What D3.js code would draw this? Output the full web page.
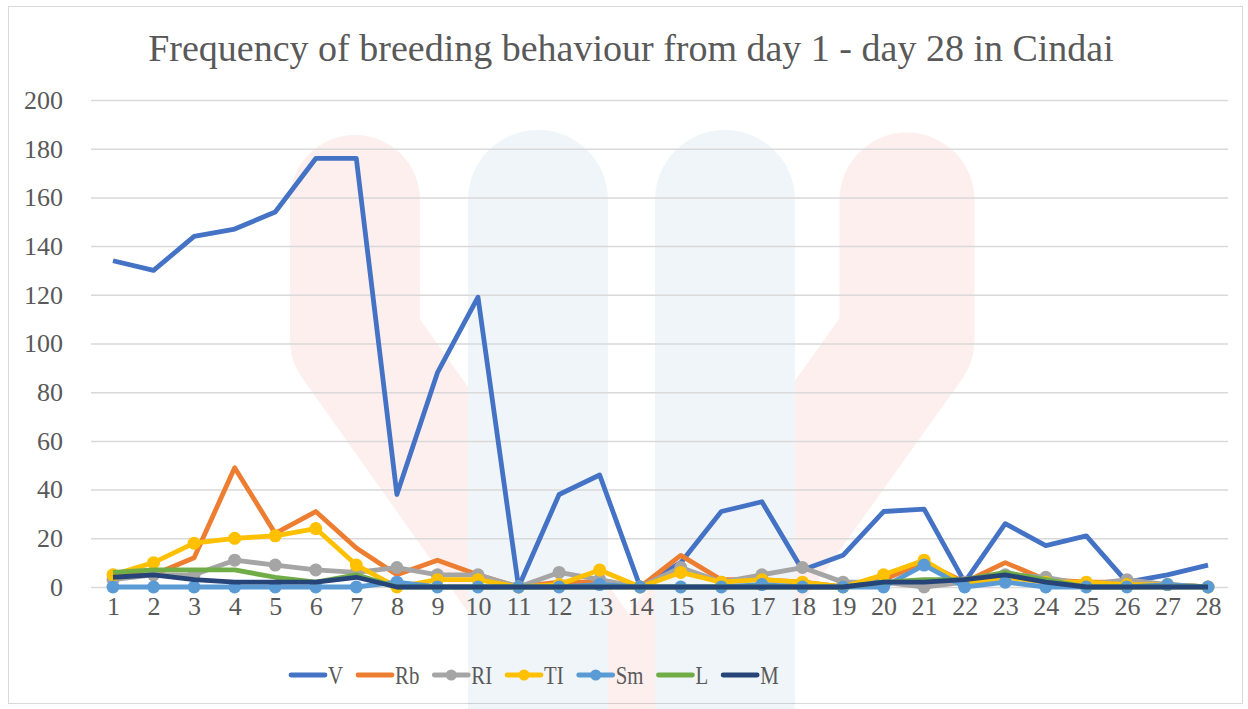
<!DOCTYPE html>
<html>
<head>
<meta charset="utf-8">
<script src="https://cdn.jsdelivr.net/npm/d3@7"></script>
<style>
  body { margin: 0; background: #fff; }
  text { font-family: "Liberation Serif", "Times New Roman", serif; fill: #595959; }
</style>
</head>
<body>
<div id="chart"></div>
<script>
// data
const days = d3.range(1, 29);
const V  = [134,130,144,147,154,176,176,38,88,119,0,38,46,0,10,31,35,7,13,31,32,2,26,17,21,2,5,9];
const Rb = [5,5,12,49,22,31,16,5,11,5,0,2,2,0,13,3,3,2,0,3,10,2,10,3,2,2,1,0];
const RI = [3,5,5,11,9,7,6,8,5,5,0,6,3,0,8,2,5,8,2,2,0,2,5,4,1,3,1,0];
const TI = [5,10,18,20,21,24,9,0,3,3,0,1,7,0,6,2,3,2,0,5,11,1,4,2,2,1,1,0];
const Sm = [0,0,0,0,0,0,0,2,0,0,0,0,1,0,0,0,1,0,0,0,9,0,2,0,0,0,1,0];
const L  = [6,7,7,7,4,2,5,0,0,0,0,0,0,0,0,0,0,0,0,2,3,3,6,3,0,0,0,0];
const M  = [4,5,3,2,2,2,4,0,0,0,0,0,0,0,0,0,0,0,0,2,2,3,5,2,0,0,0,0];
const yTicks = [0,20,40,60,80,100,120,140,160,180,200];

const series = [
  {name: "V",  values: V,  color: "#4472C4", dots: false},
  {name: "Rb", values: Rb, color: "#ED7D31", dots: false},
  {name: "RI", values: RI, color: "#A5A5A5", dots: true},
  {name: "TI", values: TI, color: "#FFC000", dots: true},
  {name: "Sm", values: Sm, color: "#5B9BD5", dots: true},
  {name: "L",  values: L,  color: "#70AD47", dots: false},
  {name: "M",  values: M,  color: "#264478", dots: false}
];

const W = 1248, H = 709;
const svg = d3.select("#chart").append("svg")
  .attr("width", W).attr("height", H);

// outer frame
svg.append("rect")
  .attr("x", 8.5).attr("y", 6.5).attr("width", W - 14).attr("height", H - 12)
  .attr("fill", "#fff").attr("stroke", "#d9d9d9");

// faint logo watermark behind the plot
const wm = svg.append("g").attr("opacity", 0.08);
wm.append("path")
  .attr("d", "M355,200 L355,340 L610,700")
  .attr("fill", "none").attr("stroke", "#e8403a").attr("stroke-width", 130)
  .attr("stroke-linecap", "round").attr("stroke-linejoin", "round");
wm.append("path")
  .attr("d", "M907,200 L907,340 L650,700")
  .attr("fill", "none").attr("stroke", "#e8403a").attr("stroke-width", 135)
  .attr("stroke-linecap", "round").attr("stroke-linejoin", "round");
wm.append("path")
  .attr("d", "M538,200 L538,720")
  .attr("fill", "none").attr("stroke", "#4d8dbf").attr("stroke-width", 140)
  .attr("stroke-linecap", "round");
wm.append("path")
  .attr("d", "M725,200 L725,720")
  .attr("fill", "none").attr("stroke", "#4d8dbf").attr("stroke-width", 140)
  .attr("stroke-linecap", "round");

const x = d3.scalePoint().domain(days).range([113, 1208]);
const y = d3.scaleLinear().domain([0, 200]).range([587, 100]);

// gridlines + y labels
const yAxis = svg.append("g")
  .attr("transform", "translate(91,0)")
  .call(d3.axisLeft(y).tickValues(yTicks).tickSize(-(1228 - 91)).tickPadding(28));
yAxis.select(".domain").remove();
yAxis.selectAll(".tick line").attr("stroke", "#d9d9d9").attr("stroke-width", 1.5);
yAxis.selectAll(".tick text")
  .attr("font-size", 26).attr("font-family", "Liberation Serif").attr("fill", "#595959");

// x labels
const xAxis = svg.append("g")
  .attr("transform", "translate(0,587)")
  .call(d3.axisBottom(x).tickSize(0).tickPadding(10));
xAxis.select(".domain").remove();
xAxis.selectAll(".tick text")
  .attr("font-size", 26).attr("font-family", "Liberation Serif").attr("fill", "#595959");

// title
svg.append("text")
  .attr("x", 631).attr("y", 61)
  .attr("text-anchor", "middle")
  .attr("font-size", 38)
  .text("Frequency of breeding behaviour from day 1 - day 28 in Cindai");

// lines
const line = d3.line()
  .x((d, i) => x(days[i]))
  .y(d => y(d));

series.forEach(s => {
  const g = svg.append("g");
  g.append("path")
    .datum(s.values)
    .attr("fill", "none")
    .attr("stroke", s.color)
    .attr("stroke-width", 4.8)
    .attr("stroke-linejoin", "round")
    .attr("d", line);
  if (s.dots) {
    g.selectAll("circle")
      .data(s.values)
      .enter()
      .append("circle")
        .attr("cx", (d, i) => x(days[i]))
        .attr("cy", d => y(d))
        .attr("r", 6.5)
        .attr("fill", s.color);
  }
});

// legend (text is a bit condensed in the original)
const squeeze = 0.8;
const legend = svg.append("g").attr("transform", "translate(291,675)");
let lx = 0;
series.forEach(s => {
  const item = legend.append("g").attr("transform", `translate(${lx},0)`);
  item.append("line")
    .attr("x1", 0).attr("x2", 34)
    .attr("stroke", s.color).attr("stroke-width", 4.8)
    .attr("stroke-linecap", "round");
  if (s.dots) {
    item.append("circle").attr("cx", 17).attr("r", 5.5).attr("fill", s.color);
  }
  const t = item.append("text")
    .attr("transform", `translate(37,9) scale(${squeeze},1)`)
    .attr("font-size", 26)
    .text(s.name);
  lx += 37 + t.node().getComputedTextLength() * squeeze + 15;
});
</script>
</body>
</html>
